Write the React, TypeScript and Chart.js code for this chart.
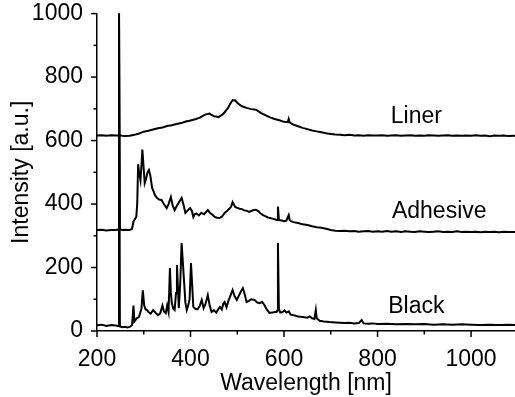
import React, { useEffect, useRef } from "react";
import { Chart, registerables } from "chart.js";

Chart.register(...registerables);

const FONT = '"Liberation Sans", Arial, sans-serif';

const xTickPositions = [200, 300, 400, 500, 600, 700, 800, 900, 1000];
const xTickValues = [200, 400, 600, 800, 1000];
const yTickPositions = [0, 100, 200, 300, 400, 500, 600, 700, 800, 900, 1000];
const yTickValues = [0, 200, 400, 600, 800, 1000];

const seriesNames = ["Liner", "Adhesive", "Black"];
const labelWavelengths = [883, 932, 883];
const labelIntensities = [674, 375, 76];

const linerWl = [200,210,220,230,240,245,247,249,250,260,270,280,290,300,310,320,330,340,350,360,370,380,390,400,410,420,430,440,450,460,470,480,485,490,495,500,505,510,520,530,540,550,560,570,580,590,600,608,610,612,620,630,640,650,660,670,680,690,700,710,720,730,740,750,760,770,780,790,800,810,820,830,840,850,860,870,880,890,900,910,920,930,940,950,960,970,980,990,1000,1010,1020,1030,1040,1050,1060,1070,1080,1094];
const linerInt = [616,617,615,617,616,616,623,616,616,614,615,618,622,628,631,635,639,641,646,648,652,655,660,663,667,672,681,685,677,674,684,702,716,727,727,719,713,708,703,699,697,687,680,673,668,664,659,658,668,657,650,645,640,636,632,629,626,623,621,619,618,617,618,616,617,615,617,616,616,617,615,616,617,615,616,617,615,616,615,617,616,615,616,617,615,616,615,616,615,617,615,616,614,616,615,616,614,615];

const adhesiveWl = [200,210,220,230,240,245,247,249,255,260,270,275,278,281,284,286,288,290,293,295,297,299,302,305,308,311,314,318,321,324,328,333,338,343,349,353,358,362,366,370,375,381,385,389,394,399,403,406,409,413,418,423,429,437,442,447,452,457,462,467,473,478,483,487,490,493,496,500,505,510,515,520,525,530,535,540,545,550,555,560,565,570,575,580,585,587,589,595,600,605,610,612,615,620,630,640,650,660,670,680,690,700,710,720,730,740,750,760,770,780,790,800,810,820,830,840,850,860,870,880,890,900,910,920,930,940,950,960,970,980,990,1000,1010,1020,1030,1040,1050,1060,1070,1080,1094];
const adhesiveInt = [318,319,317,318,318,320,1050,320,318,319,318,322,345,352,360,400,525,500,475,520,572,530,466,480,500,507,490,450,440,428,420,414,413,400,387,400,422,395,381,392,405,419,398,372,380,387,378,359,368,370,364,372,368,381,372,366,359,357,356,360,372,378,385,392,406,398,390,388,385,384,380,379,375,378,381,382,378,370,365,362,358,356,354,352,350,392,350,348,346,348,365,350,346,343,340,336,334,330,327,325,322,318,316,315,316,314,315,313,314,315,313,314,313,315,313,314,312,314,313,312,314,313,312,313,314,312,313,312,314,312,313,312,313,311,313,312,313,311,313,312,312];

const blackWl = [200,210,220,230,240,245,247,249,255,260,265,270,275,278,280,285,290,295,298,301,304,307,310,315,320,325,330,335,340,343,347,350,353,356,358,360,363,366,369,371,373,375,378,381,383,386,389,392,395,398,401,403,406,410,415,420,424,428,432,437,441,445,450,455,460,463,467,470,473,477,481,485,490,494,499,503,508,512,516,520,525,530,537,542,548,553,558,563,569,575,580,584,586,587,589,592,597,601,605,610,614,620,625,630,640,650,655,660,665,668,670,676,685,697,710,720,730,740,750,760,766,770,780,790,800,820,840,860,880,900,920,940,960,980,1000,1020,1040,1060,1080,1094];
const blackInt = [18,20,16,19,17,16,1050,14,12,13,11,13,18,80,30,40,45,70,128,80,68,66,60,55,66,58,50,55,80,62,56,80,60,198,120,88,70,66,120,208,140,72,150,277,230,161,90,66,80,100,214,160,76,70,68,80,98,72,85,113,80,60,65,58,70,76,68,85,91,75,95,110,129,110,98,110,125,135,115,91,95,100,98,90,88,92,82,68,57,58,60,60,65,277,70,58,60,65,58,62,52,50,48,46,44,42,46,40,38,66,40,32,30,28,27,26,25,26,24,25,35,24,23,24,22,23,21,22,21,22,20,21,20,21,20,19,20,19,20,19];

function zip(xs: number[], ys: number[]) {
  return xs.map((x, i) => ({ x, y: ys[i] }));
}

const tickPlugin = {
  id: "customTicks",
  afterDraw(chart: any) {
    const { ctx, scales } = chart;
    const xs = scales.x;
    const ys = scales.y;
    ctx.save();
    ctx.strokeStyle = "#000";
    ctx.lineWidth = 1.5;
    xs.ticks.forEach((t: any) => {
      const px = xs.getPixelForValue(t.value);
      const len = xTickValues.includes(t.value) ? 6 : 3.5;
      ctx.beginPath();
      ctx.moveTo(px, xs.top);
      ctx.lineTo(px, xs.top + len);
      ctx.stroke();
    });
    ys.ticks.forEach((t: any) => {
      const py = ys.getPixelForValue(t.value);
      const len = yTickValues.includes(t.value) ? 6 : 3.5;
      ctx.beginPath();
      ctx.moveTo(ys.right, py);
      ctx.lineTo(ys.right - len, py);
      ctx.stroke();
    });
    ctx.font = `23px ${FONT}`;
    ctx.fillStyle = "#000";
    ctx.textAlign = "center";
    ctx.textBaseline = "middle";
    seriesNames.forEach((n, i) => {
      ctx.fillText(n, xs.getPixelForValue(labelWavelengths[i]), ys.getPixelForValue(labelIntensities[i]));
    });
    ctx.restore();
  },
};

export default function App() {
  const ref = useRef<HTMLCanvasElement>(null);
  useEffect(() => {
    document.body.style.margin = "0";
    const ds = (data: any) => ({
      data,
      borderColor: "#000",
      borderWidth: 2,
      pointRadius: 0,
      tension: 0,
      fill: false,
    });
    const chart = new Chart(ref.current!, {
      type: "line",
      data: {
        datasets: [
          ds(zip(linerWl, linerInt)),
          ds(zip(adhesiveWl, adhesiveInt)),
          ds(zip(blackWl, blackInt)),
        ],
      },
      options: {
        animation: false,
        responsive: false,
        maintainAspectRatio: false,
        layout: { padding: 0 },
        plugins: { legend: { display: false }, tooltip: { enabled: false } },
        scales: {
          x: {
            type: "linear",
            min: 200,
            max: 1094,
            border: { color: "#000", width: 1.5 },
            grid: { display: true, drawOnChartArea: false, drawTicks: false, color: "rgba(0,0,0,0)" },
            afterBuildTicks: (s: any) => {
              s.ticks = xTickPositions.map((v) => ({ value: v }));
            },
            ticks: {
              autoSkip: false,
              maxRotation: 0,
              padding: 15,
              color: "#000",
              font: { family: FONT, size: 23 },
              callback: (v: any) => (xTickValues.includes(Number(v)) ? String(v) : ""),
            },
            title: {
              display: true,
              text: "Wavelength [nm]",
              color: "#000",
              font: { family: FONT, size: 23 },
              padding: { top: 0, bottom: 0 },
            },
            afterFit: (s: any) => {
              s.height = 66;
              s.paddingLeft = 0;
              s.paddingRight = 0;
            },
          },
          y: {
            type: "linear",
            min: 0,
            max: 1000,
            border: { color: "#000", width: 1.5 },
            grid: { display: true, drawOnChartArea: false, drawTicks: false, color: "rgba(0,0,0,0)" },
            afterBuildTicks: (s: any) => {
              s.ticks = yTickPositions.map((v) => ({ value: v }));
            },
            ticks: {
              autoSkip: false,
              padding: 14,
              color: "#000",
              font: { family: FONT, size: 23 },
              callback: (v: any) => (yTickValues.includes(Number(v)) ? String(v) : ""),
            },
            title: {
              display: true,
              text: "Intensity [a.u.]",
              color: "#000",
              font: { family: FONT, size: 23 },
              padding: { top: 8, bottom: 0 },
            },
            afterFit: (s: any) => {
              s.width = 97;
              s.paddingTop = 13.6;
              s.paddingBottom = 0;
            },
          },
        },
      },
      plugins: [tickPlugin],
    });
    return () => chart.destroy();
  }, []);
  return (
    <div style={{ width: 515, height: 397 }}>
      <canvas ref={ref} width={515} height={397} style={{ display: "block" }} />
    </div>
  );
}
